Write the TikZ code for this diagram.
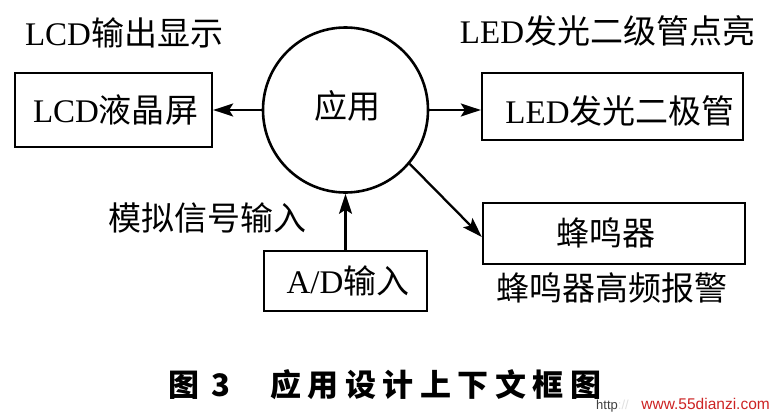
\documentclass[tikz,border=0pt]{standalone}
\usepackage{fontspec}
\usetikzlibrary{arrows.meta,calc}
\setmainfont{Liberation Serif}
\newfontfamily\cjk{Noto Sans CJK SC}
\newfontfamily\capfont{Noto Sans CJK SC}[LetterSpace=21]
\newfontfamily\wmfont{Liberation Sans}
\definecolor{wmred}{RGB}{205,35,35}
\begin{document}
\begin{tikzpicture}[x=1pt,y=-1pt,
  boxstyle/.style={draw, line width=2.3pt, inner sep=0pt},
  txt/.style={font=\fontsize{33}{36}\selectfont, inner sep=0pt},
  arr/.style={line width=2.3pt, -{Stealth[length=20pt,width=13pt,inset=4pt]}},
  captxt/.style={font=\fontsize{31}{34}\selectfont\bfseries, inner sep=0pt}]
\useasboundingbox (0,0) rectangle (776,415);
\fill[white] (0,0) rectangle (776,415);

% circle
\node[draw, circle, line width=2.6pt, minimum size=165pt, inner sep=0pt] (c) at (345.5,110) {};
\node[txt] (ctext) at (347,106) {\cjk 应用};

% boxes
\node[boxstyle, minimum width=197pt, minimum height=74pt] (lcd) at (113.5,110) {};
\node[boxstyle, minimum width=261pt, minimum height=67pt] (led) at (612.5,106.5) {};
\node[boxstyle, minimum width=262pt, minimum height=61pt] (buz) at (614,233.5) {};
\node[boxstyle, minimum width=163pt, minimum height=60pt] (ad) at (345.5,281) {};

% box texts
\node[txt] (lcdt) at (115.5,110) {LCD{\cjk 液晶屏}};
\node[txt] (ledt) at (620,111) {LED{\cjk 发光二极管}};
\node[txt] (buzt) at (606,233) {\cjk 蜂鸣器};
\node[txt] (adt) at (348,281) {A/D{\cjk 输入}};

% free labels
\node[txt] (l1) at (124,33) {LCD{\cjk 输出显示}};
\node[txt] (l2) at (607.5,31) {LED{\cjk 发光二级管点亮}};
\node[txt] (l3) at (207.5,218) {\cjk 模拟信号输入};
\node[txt] (l4) at (612,288) {\cjk 蜂鸣器高频报警};

% connectors
\draw[arr] (c.west) -- (lcd.east);
\draw[arr] (c.east) -- (c.east -| led.west);
\draw[arr] (c.-40) -- ($(buz.west)+(0,3.5)$);
\draw[arr] (ad.north) -- (c.south);

% caption
\node[captxt, anchor=west] (cap1) at (168,385) {\cjk 图\hspace{12pt}3};
\node[captxt, anchor=west] (cap2) at (270,385) {\capfont 应用设计上下文框图};

% watermark
\node[inner sep=0pt, anchor=west, font=\wmfont\fontsize{13}{13}\selectfont] (wm1) at (596,406) {\textcolor{darkgray}{http}\textcolor{black!12}{://}};
\node[inner sep=0pt, anchor=east, font=\wmfont\fontsize{15.5}{16}\selectfont, text=wmred] (wm2) at (770,404) {www.55dianzi.com};
\end{tikzpicture}
\end{document}
